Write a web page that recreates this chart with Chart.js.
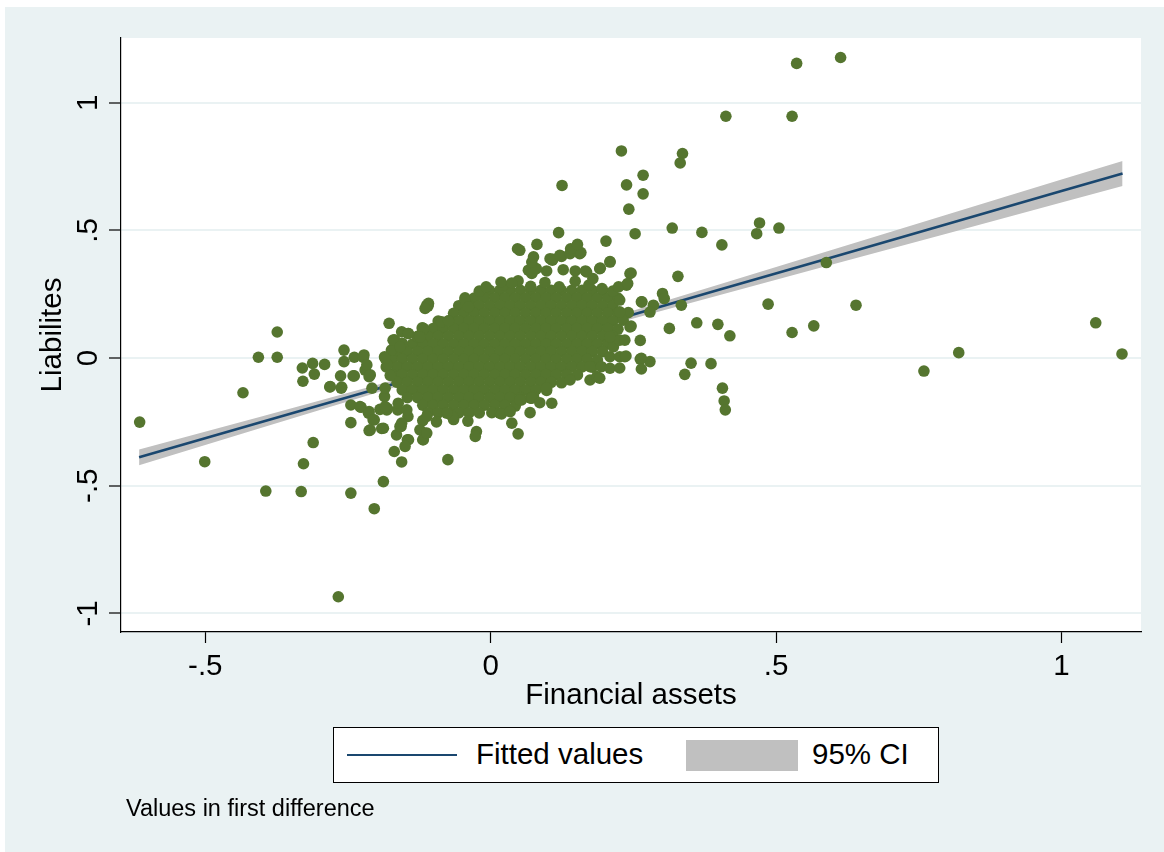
<!DOCTYPE html>
<html>
<head>
<meta charset="utf-8">
<script src="https://cdn.jsdelivr.net/npm/chart.js@4.4.1/dist/chart.umd.min.js"></script>
<style>
    html, body { margin: 0; padding: 0; background: #fff; }
    #fundo { position: absolute; left: 5px; top: 7px; width: 1159px; height: 845px; background: #eaf2f3; }
    #caixaGrafico { position: absolute; left: 0; top: 0; width: 1164px; height: 852px; }
    .texto { font-family: "Liberation Sans", Arial, sans-serif; color: #000; }
    #legenda { position: absolute; left: 333px; top: 727px; width: 604px; height: 54px; border: 1px solid #000; background: #fff; }
    #legenda .linha { position: absolute; left: 13px; top: 26px; width: 110px; height: 2px; background: #1a476f; }
    #legenda .faixa { position: absolute; left: 352px; top: 12px; width: 112px; height: 31px; background: #c0c0c0; }
    #legenda span { position: absolute; top: 9px; font-size: 29.5px; line-height: 34px; }
    #nota { position: absolute; left: 126px; top: 794px; font-size: 23.5px; line-height: 28px; }
</style>
</head>
<body>
<div id="fundo"></div>
<div id="caixaGrafico"><canvas id="grafico" width="1164" height="852"></canvas></div>
<div id="legenda" class="texto">
    <div class="linha"></div><span style="left:142px">Fitted values</span>
    <div class="faixa"></div><span style="left:478px">95% CI</span>
</div>
<div id="nota" class="texto">Values in first difference</div>
<script>
// eixos
const ticksX = [-0.5, 0, 0.5, 1];
const rotulosX = ['-.5', '0', '.5', '1'];
const ticksY = [-1, -0.5, 0, 0.5, 1];
const rotulosY = ['-1', '-.5', '0', '.5', '1'];

// reta ajustada e intervalo de 95%
const ajusteX = [-0.616, -0.4, -0.2, 0, 0.2, 0.4, 0.6, 0.8, 1.0, 1.107];
const ajusteY = [-0.389, -0.250, -0.121, 0.009, 0.138, 0.267, 0.396, 0.525, 0.654, 0.723];
const icInf = [-0.420, -0.272, -0.136, -0.002, 0.124, 0.246, 0.367, 0.488, 0.609, 0.674];
const icSup = [-0.358, -0.228, -0.106, 0.020, 0.152, 0.288, 0.425, 0.562, 0.699, 0.772];

// núcleo denso: uma linha de y com os x lidos
const nucleoY = [0.265, 0.235, 0.205, 0.175, 0.145, 0.115, 0.085, 0.055, 0.025, -0.005, -0.035, -0.065, -0.095, -0.125, -0.155, -0.185, -0.215];
const nucleoX = [
    [-0.002, 0.016, 0.034, 0.052, 0.07, 0.088, 0.106, 0.124, 0.142, 0.16, 0.178, 0.196],
    [-0.029, -0.011, 0.007, 0.025, 0.043, 0.061, 0.079, 0.097, 0.115, 0.133, 0.151, 0.169, 0.187, 0.205, 0.223],
    [-0.056, -0.038, -0.02, -0.002, 0.016, 0.034, 0.052, 0.07, 0.088, 0.106, 0.124, 0.142, 0.16, 0.178, 0.196, 0.214],
    [-0.065, -0.047, -0.029, -0.011, 0.007, 0.025, 0.043, 0.061, 0.079, 0.097, 0.115, 0.133, 0.151, 0.169, 0.187, 0.205, 0.223],
    [-0.092, -0.074, -0.056, -0.038, -0.02, -0.002, 0.016, 0.034, 0.052, 0.07, 0.088, 0.106, 0.124, 0.142, 0.16, 0.178, 0.196, 0.214],
    [-0.101, -0.083, -0.065, -0.047, -0.029, -0.011, 0.007, 0.025, 0.043, 0.061, 0.079, 0.097, 0.115, 0.133, 0.151, 0.169, 0.187, 0.205],
    [-0.128, -0.11, -0.092, -0.074, -0.056, -0.038, -0.02, -0.002, 0.016, 0.034, 0.052, 0.07, 0.088, 0.106, 0.124, 0.142, 0.16, 0.178, 0.196],
    [-0.137, -0.119, -0.101, -0.083, -0.065, -0.047, -0.029, -0.011, 0.007, 0.025, 0.043, 0.061, 0.079, 0.097, 0.115, 0.133, 0.151, 0.169, 0.187],
    [-0.164, -0.146, -0.128, -0.11, -0.092, -0.074, -0.056, -0.038, -0.02, -0.002, 0.016, 0.034, 0.052, 0.07, 0.088, 0.106, 0.124, 0.142, 0.16, 0.178],
    [-0.173, -0.155, -0.137, -0.119, -0.101, -0.083, -0.065, -0.047, -0.029, -0.011, 0.007, 0.025, 0.043, 0.061, 0.079, 0.097, 0.115, 0.133, 0.151, 0.169],
    [-0.164, -0.146, -0.128, -0.11, -0.092, -0.074, -0.056, -0.038, -0.02, -0.002, 0.016, 0.034, 0.052, 0.07, 0.088, 0.106, 0.124, 0.142, 0.16],
    [-0.173, -0.155, -0.137, -0.119, -0.101, -0.083, -0.065, -0.047, -0.029, -0.011, 0.007, 0.025, 0.043, 0.061, 0.079, 0.097, 0.115, 0.133],
    [-0.164, -0.146, -0.128, -0.11, -0.092, -0.074, -0.056, -0.038, -0.02, -0.002, 0.016, 0.034, 0.052, 0.07, 0.088, 0.106],
    [-0.155, -0.137, -0.119, -0.101, -0.083, -0.065, -0.047, -0.029, -0.011, 0.007, 0.025, 0.043, 0.061, 0.079],
    [-0.146, -0.128, -0.11, -0.092, -0.074, -0.056, -0.038, -0.02, -0.002, 0.016, 0.034, 0.052],
    [-0.119, -0.101, -0.083, -0.065, -0.047, -0.029, -0.011, 0.007, 0.025],
    [-0.11, -0.092, -0.074, -0.056, -0.038, -0.02]
];

// borda do núcleo
const borda = [
    [0.022, 0.285], [0.048, 0.302], [0.07, 0.281], [0.095, 0.296], [0.12, 0.279], [0.148, 0.301], [0.172, 0.286],
    [0.195, 0.272], [0.214, 0.262], [-0.02, 0.262], [-0.045, 0.236], [0.241, 0.178], [0.232, 0.148], [0.223, 0.113],
    [0.214, 0.085], [0.205, 0.055], [0.196, 0.025], [0.187, -0.008], [0.178, -0.036], [0.152, -0.066], [0.124, -0.097],
    [0.098, -0.127], [0.07, -0.157], [0.043, -0.188], [0.002, -0.214], [-0.119, -0.245], [-0.095, -0.25], [-0.065, -0.241],
    [-0.04, -0.247], [-0.183, -0.035], [-0.176, -0.068], [-0.155, 0.058], [-0.12, 0.118],
    [-0.330, -0.039], [-0.312, -0.021], [-0.291, -0.025], [-0.309, -0.063], [-0.329, -0.091], [-0.282, -0.113],
    [-0.262, -0.118], [-0.263, -0.070], [-0.257, 0.031], [-0.257, -0.014], [-0.239, 0.003], [-0.222, 0.012],
    [-0.239, -0.070], [-0.220, -0.047], [-0.213, -0.073], [-0.245, -0.184], [-0.245, -0.253], [-0.227, -0.193],
    [-0.213, -0.210], [-0.204, -0.242], [-0.213, -0.284], [-0.191, -0.276], [-0.178, 0.136], [-0.110, 0.203],
    [-0.156, 0.103], [-0.145, 0.096], [-0.169, 0.070], [-0.119, 0.109], [-0.128, 0.083], [-0.186, 0.005],
    [-0.181, -0.027], [-0.208, -0.118], [-0.186, -0.151], [-0.181, -0.197], [-0.157, -0.268], [-0.146, -0.320],
    [-0.169, -0.366], [-0.156, -0.407], [-0.119, -0.320], [-0.116, -0.294], [-0.075, -0.398], [-0.163, -0.203],
    [-0.145, -0.229], [-0.281, -0.112], [-0.261, -0.114], [-0.241, -0.070], [-0.223, 0.002], [-0.217, -0.027],
    [-0.211, -0.066], [-0.229, -0.190], [-0.214, -0.216], [-0.206, -0.242], [-0.211, -0.281], [-0.144, 0.096],
    [-0.112, 0.207], [-0.168, 0.070], [-0.174, 0.031], [-0.185, -0.001], [-0.147, -0.203], [-0.182, -0.203],
    [-0.194, -0.201], [-0.124, -0.281], [-0.112, -0.229], [-0.156, -0.255], [-0.165, -0.301], [-0.109, 0.214],
    [-0.115, 0.194], [-0.045, 0.227], [-0.039, 0.200], [-0.118, 0.116], [-0.124, 0.083], [-0.086, 0.142],
    [-0.074, 0.146], [-0.171, 0.070], [-0.159, 0.044], [-0.144, -0.320], [-0.118, -0.320], [-0.150, -0.346],
    [-0.112, -0.294], [-0.159, -0.268], [-0.188, -0.275], [-0.162, -0.177], [-0.185, -0.190], [-0.185, -0.118],
    [-0.025, -0.288], [-0.027, -0.307], [-0.067, -0.229], [-0.077, -0.216], [0.016, -0.216], [0.019, -0.219],
    [0.034, -0.210], [0.037, -0.255], [0.048, -0.297], [0.069, -0.214], [0.054, -0.164], [0.051, -0.164],
    [0.075, -0.151], [0.072, -0.157], [0.086, -0.175], [0.107, -0.177], [0.098, -0.118], [0.139, -0.086],
    [0.174, -0.086], [0.186, -0.073], [0.191, -0.079], [0.174, -0.034], [0.194, -0.034], [0.209, -0.040],
    [0.226, -0.039], [0.209, 0.005], [0.226, 0.005], [0.235, 0.005], [0.215, 0.044], [0.226, 0.070],
    [0.209, 0.083], [0.262, 0.069], [0.235, 0.070], [0.237, 0.008], [0.262, -0.004], [0.279, -0.014],
    [0.264, -0.043], [0.264, -0.001], [0.244, 0.122], [0.246, 0.125], [0.226, 0.181], [0.226, 0.227],
    [0.264, 0.220], [0.238, 0.285], [0.244, 0.331], [0.224, 0.279], [0.240, 0.292], [0.209, 0.376],
    [0.191, 0.350], [0.168, 0.337], [0.148, 0.341], [0.166, 0.341], [0.179, 0.311], [0.127, 0.346],
    [0.098, 0.341], [0.075, 0.344], [0.066, 0.344], [0.072, 0.331], [0.080, 0.350], [0.072, 0.376],
    [0.075, 0.396], [0.108, 0.383], [0.104, 0.389], [0.109, 0.387], [0.124, 0.398], [0.121, 0.402],
    [0.139, 0.409], [0.156, 0.409], [0.158, 0.413], [0.140, 0.428], [0.152, 0.445], [0.051, 0.422],
    [0.047, 0.428], [0.081, 0.445], [0.192, 0.352], [0.209, 0.378], [0.202, 0.458], [0.018, 0.298],
    [0.037, 0.294], [-0.008, 0.279]
];

// pontos isolados
const extremos = [
    [-0.615, -0.251], [-0.501, -0.406], [-0.434, -0.136], [-0.407, 0.003], [-0.394, -0.521], [-0.374, 0.102],
    [-0.374, 0.003], [-0.332, -0.523], [-0.328, -0.414], [-0.311, -0.331], [-0.267, -0.935], [-0.245, -0.529],
    [-0.204, -0.590], [-0.188, -0.484], [0.536, 1.154], [0.613, 1.177], [0.412, 0.947], [0.528, 0.947],
    [0.229, 0.811], [0.336, 0.801], [0.332, 0.764], [0.267, 0.716], [0.267, 0.643], [0.238, 0.678],
    [0.242, 0.583], [0.125, 0.676], [0.119, 0.491], [0.253, 0.487], [0.318, 0.509], [0.370, 0.492],
    [0.405, 0.443], [0.471, 0.529], [0.466, 0.487], [0.505, 0.509], [0.588, 0.374], [0.486, 0.211],
    [0.640, 0.207], [0.328, 0.320], [0.246, 0.333], [0.265, 0.220], [0.285, 0.207], [0.279, 0.180],
    [0.301, 0.253], [0.304, 0.233], [0.334, 0.207], [0.361, 0.138], [0.398, 0.132], [0.419, 0.087],
    [0.566, 0.126], [0.528, 0.100], [0.313, 0.116], [0.351, -0.020], [0.386, -0.022], [0.340, -0.064],
    [0.406, -0.118], [0.409, -0.168], [0.411, -0.203], [0.759, -0.051], [0.820, 0.021], [1.060, 0.138],
    [1.106, 0.016]
];

const fonte = { family: '"Liberation Sans", Arial, sans-serif', size: 29.5 };

function montarPontos() {
    const pts = [];
    nucleoX.forEach((fila, i) => fila.forEach(x => pts.push({ x, y: nucleoY[i] })));
    borda.concat(extremos).forEach(([x, y]) => pts.push({ x, y }));
    return pts;
}

const serie = arr => ajusteX.map((x, i) => ({ x, y: arr[i] }));

// fundo branco da área do gráfico
const fundoPlot = {
    id: 'fundoPlot',
    beforeDraw(chart) {
        const { ctx, chartArea: a } = chart;
        ctx.save();
        ctx.fillStyle = '#fff';
        ctx.fillRect(a.left, a.top, a.right - a.left, a.bottom - a.top);
        ctx.restore();
    }
};

// rótulos do eixo y girados, como no Stata
const rotulosEixoY = {
    id: 'rotulosEixoY',
    afterDraw(chart) {
        const { ctx } = chart;
        const esc = chart.scales.y;
        ctx.save();
        ctx.fillStyle = '#000';
        ctx.font = `${fonte.size}px ${fonte.family}`;
        ctx.textAlign = 'center';
        ctx.textBaseline = 'alphabetic';
        ticksY.forEach((v, i) => {
            ctx.save();
            ctx.translate(esc.right - 24, esc.getPixelForValue(v));
            ctx.rotate(-Math.PI / 2);
            ctx.fillText(rotulosY[i], 0, 0);
            ctx.restore();
        });
        ctx.restore();
    }
};

new Chart(document.getElementById('grafico').getContext('2d'), {
    type: 'scatter',
    data: {
        datasets: [
            { label: 'Liabilites', data: montarPontos(), backgroundColor: '#55752f', pointRadius: 5.8, pointHoverRadius: 5.8, pointBorderWidth: 0, order: 0 },
            { label: 'Fitted values', data: serie(ajusteY), showLine: true, borderColor: '#1a476f', borderWidth: 2.6, pointRadius: 0, fill: false, order: 1 },
            { label: 'ic inferior', data: serie(icInf), showLine: true, borderWidth: 0, borderColor: 'rgba(0,0,0,0)', pointRadius: 0, fill: false, order: 3 },
            { label: '95% CI', data: serie(icSup), showLine: true, borderWidth: 0, borderColor: 'rgba(0,0,0,0)', backgroundColor: '#c0c0c0', pointRadius: 0, fill: '-1', order: 2 }
        ]
    },
    options: {
        responsive: false,
        animation: false,
        layout: { padding: { left: 0, top: 38, right: 23, bottom: 120 } },
        plugins: { legend: { display: false }, tooltip: { enabled: false } },
        scales: {
            x: {
                type: 'linear', min: -0.6477, max: 1.1393,
                afterBuildTicks: s => { s.ticks = ticksX.map(v => ({ value: v })); },
                afterFit: s => { s.height = 100; },
                ticks: { callback: v => rotulosX[ticksX.indexOf(v)], font: fonte, color: '#000', padding: 6, maxRotation: 0, autoSkip: false },
                grid: { drawOnChartArea: false, tickLength: 11, tickColor: '#000', tickWidth: 1.2 },
                border: { display: true, color: '#000', width: 1.2 },
                title: { display: true, text: 'Financial assets', font: fonte, color: '#000', padding: { top: 0, bottom: 18 } }
            },
            y: {
                type: 'linear', min: -1.073, max: 1.2534,
                afterBuildTicks: s => { s.ticks = ticksY.map(v => ({ value: v })); },
                afterFit: s => { s.width = 121; },
                ticks: { display: false },
                grid: { color: '#eaf2f3', lineWidth: 2, tickLength: 12, tickColor: '#000', tickWidth: 1.2 },
                border: { display: true, color: '#000', width: 1.2 },
                title: { display: true, text: 'Liabilites', font: fonte, color: '#000', padding: { top: 35, bottom: 0 } }
            }
        }
    },
    plugins: [fundoPlot, rotulosEixoY]
});
</script>
</body>
</html>
